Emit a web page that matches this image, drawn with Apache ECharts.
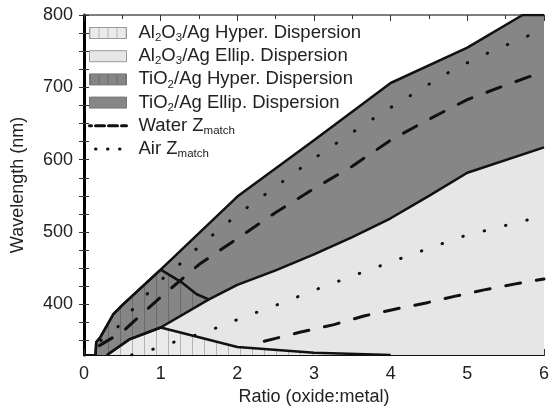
<!DOCTYPE html>
<html>
<head>
<meta charset="utf-8">
<script src="https://cdn.jsdelivr.net/npm/echarts@6/dist/echarts.min.js"></script>
<style>
  html, body { margin: 0; padding: 0; background: #fff; }
  #chart { width: 552px; height: 408px; }
</style>
</head>
<body>
<div id="chart"></div>
<script>
// values: [ratio, wavelength nm]
const tio2Outer = [[0.15, 330], [0.16, 348], [0.21, 354], [0.38, 386], [0.51, 400], [1.0, 448],
  [2.0, 549], [3.0, 627], [4.0, 706], [5.0, 755], [5.72, 800], [6.0, 800]];
const tio2HyperEdge = [[1.0, 448], [1.28, 430], [1.47, 414], [1.63, 407]];
const tio2Lower = [[0.3, 330], [0.6, 352], [1.0, 368], [1.63, 407], [2.0, 427], [2.5, 447],
  [3.0, 469], [3.5, 493], [4.0, 519], [4.5, 550], [5.0, 582], [6.0, 617]];
const al2o3HyperTop = [[0.3, 330], [0.6, 352], [1.0, 368], [2.0, 341], [3.0, 333], [4.0, 330]];

const waterUpper = [[0.2, 343], [0.5, 362], [1.0, 410], [1.5, 455], [2.0, 491], [2.5, 527], [3.0, 560],
  [3.5, 591], [4.0, 627], [4.5, 656], [5.0, 683], [5.5, 703], [6.0, 722]];
const waterLower = [[2.35, 349], [2.8, 361], [3.26, 372], [3.65, 384], [4.04, 393], [4.46, 402],
  [4.83, 411], [5.22, 420], [5.61, 428], [6.0, 435]];
const airUpper = [[0.22, 350], [0.41, 365], [0.6, 389], [0.82, 414], [1.06, 439], [1.3, 460], [1.53, 483],
  [2.0, 524], [2.48, 561], [2.95, 598], [3.42, 632], [3.89, 665], [4.37, 696], [4.84, 726],
  [5.32, 750], [5.79, 771], [6.0, 780]];
const airLower = [[0.62, 330], [0.9, 338], [1.15, 347], [1.62, 363], [2.1, 383], [2.56, 401], [3.04, 421],
  [3.52, 440], [3.99, 458], [4.46, 476], [4.94, 494], [5.42, 507], [5.87, 519], [6.0, 522]];

const yLabelValues = [400, 500, 600, 700, 800];
const yTickValues = [350, 375, 400, 425, 450, 475, 500, 525, 550, 575, 600, 625, 650, 675, 700, 725, 750, 775, 800];

const names = {
  al2o3Hyper: 'Al2O3/Ag Hyper. Dispersion',
  al2o3Ellip: 'Al2O3/Ag Ellip. Dispersion',
  tio2Hyper: 'TiO2/Ag Hyper. Dispersion',
  tio2Ellip: 'TiO2/Ag Ellip. Dispersion',
  water: 'Water Zmatch',
  air: 'Air Zmatch'
};
const legendLabels = {
  [names.al2o3Hyper]: 'Al{s|2}O{s|3}/Ag Hyper. Dispersion',
  [names.al2o3Ellip]: 'Al{s|2}O{s|3}/Ag Ellip. Dispersion',
  [names.tio2Hyper]: 'TiO{s|2}/Ag Hyper. Dispersion',
  [names.tio2Ellip]: 'TiO{s|2}/Ag Ellip. Dispersion',
  [names.water]: 'Water Z{m|match}',
  [names.air]: 'Air Z{m|match}'
};

const FONT = 'Liberation Sans';
const TEXT = '#222';
const DARK = '#868686';
const LIGHT = '#e6e6e6';
const EDGE = '#111';

// vertical line hatch used for the "Hyper." regions
const makeHatch = (bg, line, step) => {
  const c = document.createElement('canvas');
  c.width = step;
  c.height = step;
  const ctx = c.getContext('2d');
  ctx.fillStyle = bg;
  ctx.fillRect(0, 0, step, step);
  ctx.fillStyle = line;
  ctx.fillRect(0, 0, 1, step);
  return { image: c, repeat: 'repeat' };
};
const darkHatch = makeHatch(DARK, '#6a6a6a', 12);
const lightHatch = makeHatch('#eaeaea', '#b4b4b4', 12);
const darkHatchIcon = makeHatch(DARK, '#6a6a6a', 9);
const lightHatchIcon = makeHatch('#eaeaea', '#b4b4b4', 9);

const areaSeries = (name, data, fill) => ({
  name,
  type: 'line',
  data,
  symbol: 'none',
  silent: true,
  lineStyle: { color: EDGE, width: 2.5 },
  itemStyle: { color: EDGE },
  areaStyle: { color: fill, opacity: 1, origin: 'start' }
});

const curveSeries = (name, data, lineType, width) => ({
  name,
  type: 'line',
  data,
  symbol: 'none',
  silent: true,
  z: 5,
  itemStyle: { color: EDGE },
  lineStyle: { color: EDGE, width, type: lineType, cap: 'round' }
});

const tio2HyperData = tio2Outer.filter((p) => p[0] < 1.0).concat(tio2HyperEdge);

const axisName = { fontFamily: FONT, fontSize: 18, color: TEXT };
const tickStyle = { color: '#333', width: 1 };

const chart = echarts.init(document.getElementById('chart'));
chart.setOption({
  animation: false,
  backgroundColor: '#fff',
  grid: { left: 84, right: 8, top: 15, bottom: 53, outerBoundsMode: 'none' },
  legend: {
    orient: 'vertical',
    left: 83,
    top: 17,
    itemWidth: 37,
    itemHeight: 11,
    itemGap: 1.2,
    selectedMode: false,
    formatter: (name) => legendLabels[name],
    textStyle: {
      fontFamily: FONT,
      fontSize: 18.5,
      lineHeight: 20,
      color: TEXT,
      padding: [0, 0, 0, 7],
      rich: {
        s: { fontFamily: FONT, fontSize: 11.5, lineHeight: 11, color: TEXT, padding: [10, 0, 0, 0] },
        m: { fontFamily: FONT, fontSize: 11.5, lineHeight: 11, color: TEXT, padding: [10, 0, 0, 0] }
      }
    },
    data: [
      { name: names.al2o3Hyper, icon: 'rect', itemStyle: { color: lightHatchIcon, borderColor: '#999', borderWidth: 1 } },
      { name: names.al2o3Ellip, icon: 'rect', itemStyle: { color: LIGHT, borderColor: '#999', borderWidth: 1 } },
      { name: names.tio2Hyper, icon: 'rect', itemStyle: { color: darkHatchIcon, borderColor: '#777', borderWidth: 1 } },
      { name: names.tio2Ellip, icon: 'rect', itemStyle: { color: DARK, borderColor: '#777', borderWidth: 1 } },
      { name: names.water, itemStyle: { opacity: 0 }, lineStyle: { color: EDGE, width: 3, type: [9, 4], dashOffset: -6 } },
      { name: names.air, itemStyle: { opacity: 0 }, lineStyle: { color: EDGE, width: 3, type: [0.5, 11.5], dashOffset: -6, cap: 'round' } }
    ]
  },
  xAxis: [
    {
      type: 'value', min: 0, max: 6, interval: 1, position: 'bottom',
      name: 'Ratio (oxide:metal)', nameLocation: 'middle', nameGap: 33, nameTextStyle: axisName,
      axisLine: { lineStyle: { color: '#111', width: 2 } },
      axisTick: { inside: true, length: 6, lineStyle: tickStyle },
      minorTick: { show: true, splitNumber: 2, length: 4, lineStyle: tickStyle },
      axisLabel: { margin: 10, fontFamily: FONT, fontSize: 18, color: TEXT },
      splitLine: { show: false }
    },
    {
      type: 'value', min: 0, max: 6, interval: 1, position: 'top',
      axisLine: { lineStyle: { color: '#555', width: 1.5 } },
      axisTick: { inside: true, length: 6, lineStyle: tickStyle },
      minorTick: { show: true, splitNumber: 2, length: 4, lineStyle: tickStyle },
      axisLabel: { show: false },
      splitLine: { show: false }
    }
  ],
  yAxis: [
    {
      type: 'value', min: 330, max: 800, position: 'left',
      name: 'Wavelength (nm)', nameLocation: 'middle', nameGap: 57, nameTextStyle: axisName,
      axisLine: { show: true, lineStyle: { color: '#333', width: 1.5 } },
      axisTick: { show: true, inside: true, length: 5, customValues: yTickValues, lineStyle: tickStyle },
      axisLabel: { margin: 11, fontFamily: FONT, fontSize: 18, color: TEXT, customValues: yLabelValues },
      splitLine: { show: false }
    },
    {
      type: 'value', min: 330, max: 800, position: 'right',
      axisLine: { show: true, lineStyle: { color: '#000', width: 3 } },
      axisTick: { show: true, inside: true, length: 5, customValues: yTickValues, lineStyle: tickStyle },
      axisLabel: { show: false },
      splitLine: { show: false }
    }
  ],
  series: [
    areaSeries(names.tio2Ellip, tio2Outer, DARK),
    areaSeries(names.tio2Hyper, tio2HyperData, darkHatch),
    areaSeries(names.al2o3Ellip, tio2Lower, LIGHT),
    areaSeries(names.al2o3Hyper, al2o3HyperTop, lightHatch),
    curveSeries(names.water, waterUpper, [15, 16], 3),
    curveSeries(names.water, waterLower, [15, 16], 3),
    curveSeries(names.air, airUpper, [0.5, 21.5], 3),
    curveSeries(names.air, airLower, [0.5, 21.5], 3)
  ]
});
</script>
</body>
</html>
